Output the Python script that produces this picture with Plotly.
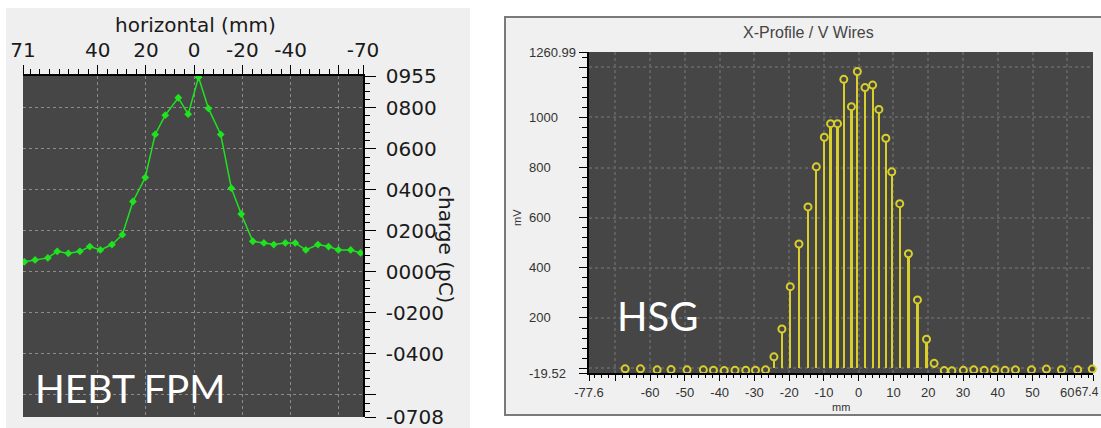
import plotly.graph_objects as go

W, H = 1101, 428

# ---------------- data: HEBT FPM (left) ----------------
FPM_X = [70.4, 66.0, 60.7, 56.8, 52.2, 47.4, 43.3, 38.9, 34.1, 29.8, 25.4, 20.3,
         16.2, 12.0, 6.6, 2.5, -1.8, -5.9, -11.0, -15.4, -19.5, -24.3, -28.9, -33.0,
         -37.8, -41.9, -46.3, -51.3, -55.7, -59.8, -64.9, -69.0]
FPM_Q = [49, 58, 68, 100, 90, 100, 123, 107, 133, 181, 343, 460,
         670, 764, 849, 769, 949, 797, 670, 408, 282, 149, 141, 133,
         141, 141, 107, 133, 123, 107, 107, 92]
FPM_XTICKS = [71, 40, 20, 0, -20, -40, -60, -70]
FPM_XTEXT = ["71", "40", "20", "0", "-20", "-40", "", "-70"]
FPM_YTICKS = [955, 800, 600, 400, 200, 0, -200, -400, -600, -708]
FPM_YTEXT = ["0955", "0800", "0600", "0400", "0200", "0000", "-0200", "-0400", "", "-0708"]

# ---------------- data: HSG (right) ----------------
HSG_X = [-67.2, -62.8, -58.0, -54.0, -49.4, -44.7, -41.8, -38.7, -35.6, -32.5, -29.7, -26.8,
         -24.4, -22.1, -19.7, -17.2, -14.6, -12.2, -9.9, -8.1, -6.1, -4.3, -2.1, -0.4,
         1.8, 4.0, 5.8, 7.8, 9.5, 11.8, 14.3, 16.9, 19.5, 21.7,
         24.6, 26.8, 30.1, 33.1, 36.1, 39.1, 42.1, 45.1, 49.7, 54.0, 58.3, 63.0, 67.2]
HSG_MV = [-3, -3, -7, -6, -7, -7, -9, -10, -9, -9, -9, -7,
          45, 156, 325, 495, 643, 803, 921, 975, 975, 1152, 1043, 1183,
          1119, 1129, 1032, 917, 783, 656, 456, 272, 115, 19,
          -10, -11, -9, -7, -9, -7, -9, -7, -7, -4, -7, -7, -4]
HSG_XTICKS = [-77.6, -70, -60, -50, -40, -30, -20, -10, 0, 10, 20, 30, 40, 50, 60, 67.4]
HSG_XTEXT = ["-77.6", "", "-60", "-50", "-40", "-30", "-20", "-10", "0", "10", "20",
             "30", "40", "50", "60", ""]
HSG_XEND_LABEL = "67.4"
HSG_YGRID = [-19.52, 0, 200, 400, 600, 800, 1000, 1200, 1260.99]
HSG_YLAB_V = [-19.52, 200, 400, 600, 800, 1000, 1260.99]
HSG_YLAB_T = ["-19.52", "200", "400", "600", "800", "1000", "1260.99"]


def px(x):
    return x / W


def py(y):
    return 1 - y / H


GREEN = "#1fe31f"
YELLOW = "#d8cf2c"
DARK = "#464646"

fig = go.Figure()

fig.add_trace(go.Scatter(
    x=FPM_X, y=FPM_Q, mode="lines+markers", xaxis="x", yaxis="y",
    line=dict(color=GREEN, width=1.5),
    marker=dict(symbol="diamond", size=6, color=GREEN),
    showlegend=False, hoverinfo="skip"))

fig.add_trace(go.Bar(
    x=HSG_X, y=HSG_MV, xaxis="x2", yaxis="y2", width=0.65,
    marker=dict(color=YELLOW, line=dict(width=0)),
    showlegend=False, hoverinfo="skip"))

fig.add_trace(go.Scatter(
    x=HSG_X, y=HSG_MV, mode="markers", xaxis="x2", yaxis="y2",
    marker=dict(symbol="circle", size=7, color=DARK, line=dict(color=YELLOW, width=2)),
    cliponaxis=False, showlegend=False, hoverinfo="skip"))

font_dv = dict(family="DejaVu Sans", size=20, color="#1a1a1a")
font_ar = dict(family="Liberation Sans", size=13, color="#333333")

shapes = [
    dict(type="rect", xref="paper", yref="paper", x0=px(6), x1=px(470), y0=0, y1=py(8),
         fillcolor="#efefef", line=dict(width=0), layer="below"),
    dict(type="rect", xref="paper", yref="paper", x0=px(505), x1=px(1120), y0=py(415), y1=py(17),
         fillcolor="#f0f0f0", line=dict(color="#7a7a7a", width=2), layer="below"),
    dict(type="rect", xref="x domain", yref="y domain", x0=0, x1=1, y0=0, y1=1,
         fillcolor=DARK, line=dict(width=0), layer="below"),
    dict(type="rect", xref="x2 domain", yref="y2 domain", x0=0, x1=1, y0=0, y1=1,
         fillcolor=DARK, line=dict(width=0), layer="below"),
]

annotations = [
    dict(text="horizontal (mm)", x=px(195), y=py(25), xref="paper", yref="paper",
         showarrow=False, font=font_dv, xanchor="center", yanchor="middle"),
    dict(text="charge (pC)", x=px(446), y=py(244), xref="paper", yref="paper",
         showarrow=False, font=font_dv, textangle=90, xanchor="center", yanchor="middle"),
    dict(text="HEBT FPM", x=px(33), y=py(388), xref="paper", yref="paper",
         showarrow=False, font=dict(family="Lato", size=39, color="white"),
         xanchor="left", yanchor="middle"),
    dict(text="HSG", x=px(615), y=py(316), xref="paper", yref="paper",
         showarrow=False, font=dict(family="Lato", size=40, color="white"),
         xanchor="left", yanchor="middle"),
    dict(text="X-Profile / V Wires", x=px(808), y=py(32), xref="paper", yref="paper",
         showarrow=False, font=dict(family="Liberation Sans", size=16, color="#444444"),
         xanchor="center", yanchor="middle"),
    dict(text="mm", x=px(841), y=py(407), xref="paper", yref="paper",
         showarrow=False, font=dict(family="Liberation Sans", size=11, color="#333333"),
         xanchor="center", yanchor="middle"),
    dict(text="mV", x=px(517), y=py(218), xref="paper", yref="paper",
         showarrow=False, font=dict(family="Liberation Sans", size=11, color="#333333"),
         textangle=-90, xanchor="center", yanchor="middle"),
    dict(text=HSG_XEND_LABEL, x=px(1100), y=py(392), xref="paper", yref="paper",
         showarrow=False, borderpad=0,
         font=dict(family="Liberation Sans", size=12, color="#333333"),
         xanchor="right", yanchor="middle"),
]
for v, t in zip(HSG_YLAB_V, HSG_YLAB_T):
    annotations.append(dict(text=t, x=px(527), y=v, xref="paper", yref="y2",
                            showarrow=False, font=font_ar, xanchor="left", yanchor="middle"))

fig.update_layout(
    width=W, height=H, margin=dict(l=0, r=0, t=0, b=0, autoexpand=False),
    paper_bgcolor="white", plot_bgcolor=DARK, bargap=0,
    shapes=shapes, annotations=annotations,
    xaxis=dict(domain=[px(23), px(363)], range=[71, -70], side="top", anchor="y",
               tickmode="array", tickvals=FPM_XTICKS, ticktext=FPM_XTEXT,
               ticks="outside", ticklen=9, tickcolor="black", tickwidth=1,
               minor=dict(dtick=4, tick0=0, ticks="outside", ticklen=5, tickcolor="black",
                          showgrid=False),
               showgrid=True, gridcolor="#8c8c8c", griddash="3px,3px", gridwidth=1,
               showline=True, linecolor="black", linewidth=1.5, zeroline=False,
               tickfont=font_dv, ticklabelstandoff=0, automargin=False,
               ticklabeloverflow="allow"),
    yaxis=dict(domain=[py(417), py(76)], range=[-708, 955], side="right", anchor="x",
               tickmode="array", tickvals=FPM_YTICKS, ticktext=FPM_YTEXT,
               ticks="outside", ticklen=11, tickcolor="black", tickwidth=1,
               minor=dict(dtick=40, tick0=0, ticks="outside", ticklen=5, tickcolor="black",
                          showgrid=False),
               showgrid=True, gridcolor="#8c8c8c", griddash="3px,3px", gridwidth=1,
               showline=True, linecolor="black", linewidth=1.5, zeroline=False,
               tickfont=font_dv, ticklabelstandoff=6, automargin=False,
               ticklabeloverflow="allow"),
    xaxis2=dict(domain=[px(589), px(1093)], range=[-77.6, 67.4], anchor="y2",
                tickmode="array", tickvals=HSG_XTICKS, ticktext=HSG_XTEXT,
                ticks="outside", ticklen=6, tickcolor="black", tickwidth=1,
                minor=dict(dtick=2, tick0=0, ticks="outside", ticklen=3, tickcolor="black",
                           showgrid=False),
                showgrid=True, gridcolor="#606060", griddash="dot", gridwidth=1.5,
                showline=True, linecolor="black", linewidth=1.5, zeroline=False,
                tickfont=font_ar, ticklabelstandoff=1, automargin=False,
                ticklabeloverflow="allow"),
    yaxis2=dict(domain=[py(373), py(52)], range=[-19.52, 1260.99], anchor="x2",
                tickmode="array", tickvals=HSG_YGRID, showticklabels=False,
                ticks="outside", ticklen=8, tickcolor="black", tickwidth=1,
                minor=dict(dtick=40, tick0=0, ticks="outside", ticklen=5, tickcolor="black",
                           showgrid=False),
                showgrid=True, gridcolor="#606060", griddash="dot", gridwidth=1.5,
                showline=True, linecolor="black", linewidth=1.5, zeroline=False,
                automargin=False),
)

fig.write_html("out.html")
